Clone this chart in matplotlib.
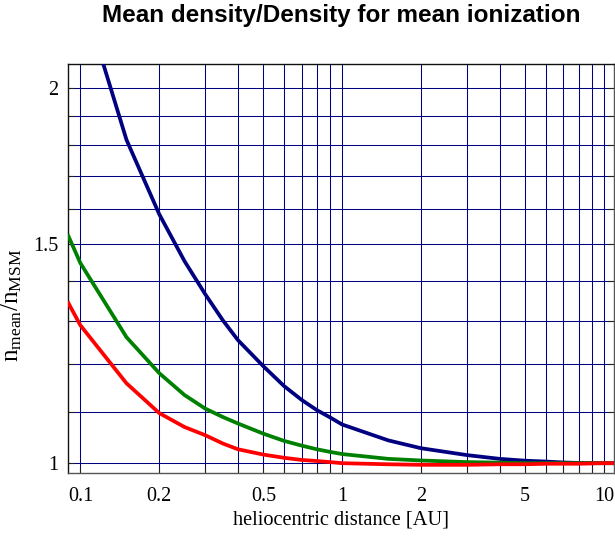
import matplotlib
matplotlib.use('Agg')
import matplotlib.pyplot as plt
from matplotlib.ticker import FixedLocator, FuncFormatter, NullLocator

# heliocentric distance samples [AU]
distance = [0.09, 0.1, 0.15, 0.2, 0.25, 0.3, 0.35, 0.4, 0.5, 0.6, 0.7, 0.8, 0.9,
            1.0, 1.5, 2.0, 3.0, 4.0, 5.0, 6.0, 7.0, 8.0, 10.0, 11.0]

# n_mean / n_MSM for the three cases
ratio_blue = [2.55, 2.40, 1.817, 1.584, 1.452, 1.366, 1.302, 1.255, 1.196, 1.153, 1.124, 1.103, 1.088,
              1.074, 1.043, 1.028, 1.015, 1.008, 1.0046, 1.003, 1.0013, 1.0005, 1.0, 1.0]
ratio_green = [1.521, 1.447, 1.262, 1.181, 1.134, 1.106, 1.089, 1.076, 1.056, 1.042, 1.033, 1.026, 1.021,
               1.017, 1.008, 1.005, 1.002, 1.001, 1.0, 1.0, 1.0, 1.0, 1.0, 1.0]
ratio_red = [1.344, 1.29, 1.159, 1.097, 1.069, 1.053, 1.037, 1.026, 1.016, 1.010, 1.006, 1.004, 1.002,
             1.0, 0.998, 0.997, 0.997, 0.998, 0.998, 0.999, 0.999, 0.999, 1.0, 1.0]

x_grid = [0.1, 0.2, 0.3, 0.4, 0.5, 0.6, 0.7, 0.8, 0.9, 1, 2, 3, 4, 5, 6, 7, 8, 9, 10]
x_labeled = {0.1: '0.1', 0.2: '0.2', 0.5: '0.5', 1: '1', 2: '2', 5: '5', 10: '10'}
y_grid = [1.0, 1.1, 1.2, 1.3, 1.4, 1.5, 1.6, 1.7, 1.8, 1.9, 2.0]
y_labeled = {1.0: '1', 1.5: '1.5', 2.0: '2'}

plt.rcParams['mathtext.fontset'] = 'custom'
plt.rcParams['mathtext.rm'] = 'Liberation Serif'
plt.rcParams['mathtext.it'] = 'Liberation Serif'

fig = plt.figure(figsize=(6.15, 5.36), dpi=100)
ax = fig.add_axes([0.1106, 0.1175, 0.8878, 0.7631])

ax.set_xscale('log')
ax.set_yscale('log')
ax.set_xlim(0.0897, 10.92)
ax.set_ylim(0.982, 2.09)

grid_kw = dict(color='#000080', lw=0.75, zorder=1)
for gx in x_grid:
    ax.axvline(gx, **grid_kw)
for gy in y_grid:
    ax.axhline(gy, **grid_kw)

ax.plot(distance, ratio_blue, color='#000080', lw=2.7, zorder=3)
ax.plot(distance, ratio_green, color='#008000', lw=2.7, zorder=3)
ax.plot(distance, ratio_red, color='#ff0000', lw=2.7, zorder=3)


def pick_label(table):
    return FuncFormatter(lambda v, p: next((s for k, s in table.items() if abs(k - v) < 1e-9), ''))


ax.xaxis.set_major_locator(FixedLocator(x_grid))
ax.xaxis.set_minor_locator(NullLocator())
ax.xaxis.set_major_formatter(pick_label(x_labeled))
ax.yaxis.set_major_locator(FixedLocator(y_grid))
ax.yaxis.set_minor_locator(NullLocator())
ax.yaxis.set_major_formatter(pick_label(y_labeled))

ax.tick_params(axis='both', direction='in', length=4, width=0.8, color='#222222',
               labelsize=14.5, labelfontfamily='Liberation Serif')
ax.tick_params(axis='x', pad=10)
ax.tick_params(axis='y', right=True, pad=7)

for side in ['left', 'top']:
    ax.spines[side].set_color('#111111')
ax.spines['bottom'].set_color('#555555')
ax.spines['right'].set_color('#555555')
for sp in ax.spines.values():
    sp.set_linewidth(1.0)

ax.set_xlabel('heliocentric distance [AU]', fontsize=14.7, family='Liberation Serif', labelpad=3)
ax.set_ylabel(r'$\mathrm{n_{mean}/n_{MSM}}$', fontsize=18)
ax.yaxis.set_label_coords(-0.08, 0.41)

fig.text(0.555, 0.959, 'Mean density/Density for mean ionization', ha='center', va='baseline',
         fontsize=17.5, fontweight='bold', family='Liberation Sans')

fig.savefig('out.png', dpi=100)
